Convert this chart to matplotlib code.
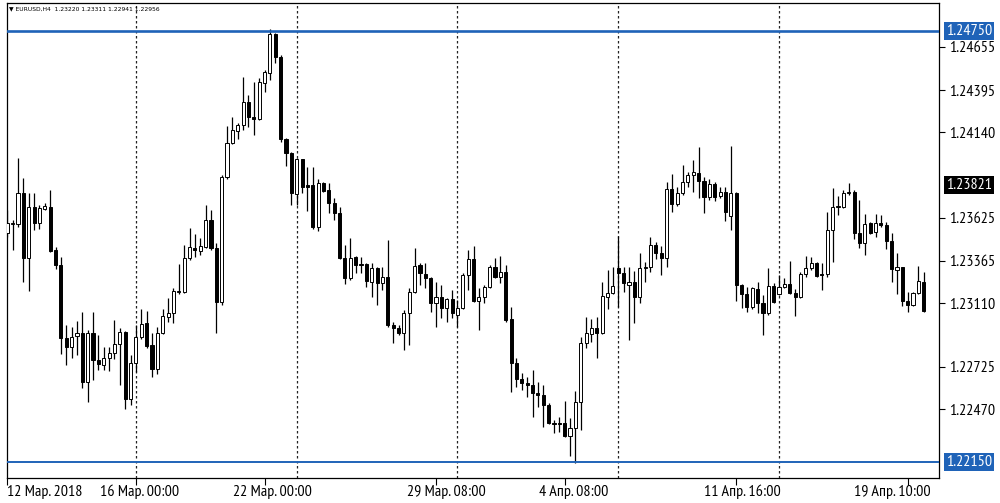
import matplotlib
matplotlib.use('Agg')
import matplotlib.pyplot as plt
import matplotlib.transforms as mtransforms

# EURUSD H4 candles
opens = [1.23532, 1.23586, 1.23586, 1.23773, 1.23381, 1.23689, 1.23592, 1.23677, 1.23689, 1.23430,
         1.23339, 1.22899, 1.22845, 1.22911, 1.22929, 1.22634, 1.22929, 1.22767, 1.22737, 1.22779,
         1.22809, 1.22863, 1.22935, 1.22532, 1.22749, 1.22905, 1.22990, 1.22857, 1.22712, 1.22929,
         1.23026, 1.23050, 1.23176, 1.23176, 1.23381, 1.23442, 1.23423, 1.23448, 1.23610, 1.23442,
         1.23116, 1.23869, 1.24076, 1.24148, 1.24183, 1.24323, 1.24233, 1.24217, 1.24434, 1.24498,
         1.24731, 1.24591, 1.24097, 1.24016, 1.23767, 1.23976, 1.23821, 1.23821, 1.23570, 1.23835,
         1.23791, 1.23715, 1.23652, 1.23381, 1.23261, 1.23387, 1.23345, 1.23345, 1.23237, 1.23321,
         1.23231, 1.23267, 1.22978, 1.22960, 1.22929, 1.23050, 1.23176, 1.23339, 1.23285, 1.23261,
         1.23110, 1.23146, 1.23080, 1.23134, 1.23038, 1.23080, 1.23279, 1.23375, 1.23122, 1.23146,
         1.23207, 1.23327, 1.23267, 1.23297, 1.23014, 1.22749, 1.22652, 1.22628, 1.22616, 1.22568,
         1.22556, 1.22495, 1.22387, 1.22387, 1.22387, 1.22309, 1.22357, 1.22514, 1.22869, 1.22923,
         1.22960, 1.22929, 1.23146, 1.23170, 1.23321, 1.23291, 1.23219, 1.23237, 1.23146, 1.23321,
         1.23327, 1.23460, 1.23411, 1.23381, 1.23797, 1.23707, 1.23773, 1.23839, 1.23881, 1.23894,
         1.23845, 1.23749, 1.23827, 1.23755, 1.23779, 1.23634, 1.23773, 1.23219, 1.23164, 1.23086,
         1.23194, 1.23110, 1.23050, 1.23213, 1.23164, 1.23207, 1.23225, 1.23170, 1.23146, 1.23285,
         1.23321, 1.23351, 1.23285, 1.23285, 1.23550, 1.23689, 1.23689, 1.23773, 1.23779, 1.23532,
         1.23472, 1.23592, 1.23538, 1.23592, 1.23580, 1.23484, 1.23309, 1.23327, 1.23122, 1.23098,
         1.23170, 1.23237]
highs = [1.23671, 1.23610, 1.23984, 1.23863, 1.23773, 1.23773, 1.23701, 1.23713, 1.23791, 1.23448,
         1.23387, 1.22978, 1.22966, 1.23002, 1.23056, 1.22947, 1.23056, 1.22917, 1.22845, 1.22845,
         1.23008, 1.22960, 1.22940, 1.22797, 1.22978, 1.23074, 1.23062, 1.22929, 1.22966, 1.23074,
         1.23140, 1.23201, 1.23345, 1.23460, 1.23562, 1.23526, 1.23502, 1.23701, 1.23671, 1.23472,
         1.23881, 1.24177, 1.24233, 1.24197, 1.24474, 1.24364, 1.24444, 1.24466, 1.24514, 1.24759,
         1.24735, 1.24605, 1.24103, 1.24022, 1.23982, 1.23980, 1.23928, 1.23928, 1.23856, 1.23841,
         1.23831, 1.23741, 1.23689, 1.23460, 1.23502, 1.23393, 1.23387, 1.23351, 1.23351, 1.23327,
         1.23327, 1.23490, 1.22996, 1.22978, 1.23068, 1.23201, 1.23442, 1.23351, 1.23351, 1.23267,
         1.23237, 1.23219, 1.23140, 1.23189, 1.23128, 1.23291, 1.23430, 1.23454, 1.23201, 1.23219,
         1.23339, 1.23381, 1.23393, 1.23339, 1.23086, 1.22779, 1.22688, 1.22664, 1.22706, 1.22634,
         1.22616, 1.22508, 1.22405, 1.22423, 1.22520, 1.22417, 1.22580, 1.22905, 1.23026, 1.23014,
         1.23026, 1.23237, 1.23309, 1.23327, 1.23514, 1.23327, 1.23327, 1.23303, 1.23411, 1.23357,
         1.23508, 1.23478, 1.23454, 1.23839, 1.23887, 1.23809, 1.23942, 1.23900, 1.23972, 1.24050,
         1.23869, 1.23856, 1.23839, 1.23809, 1.23809, 1.24056, 1.23779, 1.23225, 1.23207, 1.23207,
         1.23237, 1.23158, 1.23321, 1.23231, 1.23279, 1.23261, 1.23363, 1.23194, 1.23297, 1.23393,
         1.23387, 1.23357, 1.23351, 1.23658, 1.23803, 1.23755, 1.23791, 1.23833, 1.23791, 1.23731,
         1.23646, 1.23598, 1.23646, 1.23640, 1.23598, 1.23532, 1.23411, 1.23330, 1.23176, 1.23176,
         1.23333, 1.23297]
lows = [1.23508, 1.23430, 1.23568, 1.23237, 1.23182, 1.23550, 1.23556, 1.23671, 1.23420, 1.23315,
        1.22803, 1.22737, 1.22779, 1.22797, 1.22598, 1.22514, 1.22646, 1.22706, 1.22706, 1.22700,
        1.22773, 1.22616, 1.22471, 1.22495, 1.22694, 1.22893, 1.22839, 1.22664, 1.22682, 1.22923,
        1.22996, 1.22990, 1.23164, 1.23170, 1.23369, 1.23387, 1.23399, 1.23442, 1.23430, 1.22929,
        1.23098, 1.23857, 1.24068, 1.24098, 1.24153, 1.24172, 1.24122, 1.24213, 1.24383, 1.24454,
        1.24558, 1.24082, 1.23936, 1.23701, 1.23701, 1.23775, 1.23666, 1.23554, 1.23546, 1.23781,
        1.23654, 1.23610, 1.23378, 1.23225, 1.23249, 1.23291, 1.23291, 1.23207, 1.23146, 1.23098,
        1.23189, 1.22966, 1.22869, 1.22917, 1.22827, 1.22857, 1.23170, 1.23219, 1.23201, 1.23056,
        1.22966, 1.23020, 1.22996, 1.23020, 1.22966, 1.23074, 1.23189, 1.23116, 1.22947, 1.23110,
        1.23201, 1.23261, 1.23231, 1.22996, 1.22574, 1.22604, 1.22586, 1.22544, 1.22423, 1.22483,
        1.22363, 1.22380, 1.22327, 1.22333, 1.22303, 1.22188, 1.22146, 1.22345, 1.22839, 1.22875,
        1.22779, 1.22923, 1.23074, 1.23164, 1.23086, 1.23176, 1.22887, 1.22990, 1.23110, 1.23237,
        1.23297, 1.23375, 1.23279, 1.23327, 1.23658, 1.23695, 1.23761, 1.23809, 1.23779, 1.23743,
        1.23652, 1.23731, 1.23725, 1.23743, 1.23604, 1.23550, 1.23122, 1.23080, 1.23056, 1.23074,
        1.23050, 1.22917, 1.23038, 1.23110, 1.23158, 1.23201, 1.23164, 1.23032, 1.23140, 1.23267,
        1.23309, 1.23267, 1.23189, 1.23267, 1.23357, 1.23640, 1.23683, 1.23761, 1.23496, 1.23442,
        1.23399, 1.23526, 1.23508, 1.23568, 1.23436, 1.23237, 1.23164, 1.23092, 1.23056, 1.23092,
        1.23164, 1.23056]
closes = [1.23592, 1.23592, 1.23773, 1.23381, 1.23689, 1.23592, 1.23683, 1.23695, 1.23425, 1.23339,
          1.22899, 1.22845, 1.22905, 1.22929, 1.22634, 1.22929, 1.22767, 1.22743, 1.22779, 1.22809,
          1.22863, 1.22935, 1.22532, 1.22749, 1.22905, 1.22984, 1.22851, 1.22712, 1.22929, 1.23032,
          1.23050, 1.23182, 1.23182, 1.23381, 1.23448, 1.23430, 1.23454, 1.23610, 1.23442, 1.23116,
          1.23869, 1.24076, 1.24153, 1.24183, 1.24323, 1.24233, 1.24221, 1.24444, 1.24504, 1.24731,
          1.24591, 1.24097, 1.24016, 1.23775, 1.23976, 1.23811, 1.23811, 1.23570, 1.23835, 1.23787,
          1.23715, 1.23651, 1.23381, 1.23261, 1.23381, 1.23339, 1.23339, 1.23243, 1.23321, 1.23231,
          1.23267, 1.22978, 1.22960, 1.22929, 1.23050, 1.23176, 1.23333, 1.23291, 1.23261, 1.23110,
          1.23146, 1.23080, 1.23134, 1.23050, 1.23080, 1.23279, 1.23375, 1.23122, 1.23146, 1.23207,
          1.23327, 1.23267, 1.23297, 1.23008, 1.22749, 1.22652, 1.22628, 1.22616, 1.22568, 1.22556,
          1.22495, 1.22387, 1.22381, 1.22381, 1.22309, 1.22357, 1.22514, 1.22869, 1.22929, 1.22960,
          1.22929, 1.23152, 1.23170, 1.23213, 1.23291, 1.23231, 1.23237, 1.23146, 1.23321, 1.23327,
          1.23460, 1.23411, 1.23381, 1.23797, 1.23707, 1.23773, 1.23839, 1.23881, 1.23900, 1.23845,
          1.23749, 1.23827, 1.23749, 1.23779, 1.23658, 1.23773, 1.23219, 1.23164, 1.23086, 1.23201,
          1.23110, 1.23050, 1.23213, 1.23116, 1.23207, 1.23225, 1.23170, 1.23146, 1.23285, 1.23321,
          1.23351, 1.23273, 1.23279, 1.23550, 1.23689, 1.23695, 1.23773, 1.23779, 1.23532, 1.23472,
          1.23586, 1.23532, 1.23592, 1.23580, 1.23484, 1.23315, 1.23327, 1.23122, 1.23098, 1.23170,
          1.23243, 1.23062]

date_labels = ['12 Мар. 2018', '16 Мар. 00:00', '22 Мар. 00:00', '29 Мар. 08:00',
               '4 Апр. 08:00', '11 Апр. 16:00', '19 Апр. 10:00']
date_ticks = [0, 24, 48, 80, 104, 136, 168]        # bar index of each tick mark
date_label_at = [6.9, 24.6, 49.5, 82.0, 105.7, 137.1, 165.2]
grid_bars = [24, 54, 84, 114, 144]
price_ticks = [1.24655, 1.24395, 1.24140, 1.23625, 1.23365, 1.23110, 1.22725, 1.22470]
level_top = 1.24750
level_bottom = 1.22150
marker_price = 1.23821
header = 'EURUSD,H4  1.23220 1.23311 1.22941 1.22956'

FONT = ['PT Sans Narrow', 'DejaVu Sans']
BLUE = '#1f63b8'

fig = plt.figure(figsize=(10, 5.03), dpi=100)
ax = fig.add_axes([0.0067, 0.0503, 0.9326, 0.9431])

n = len(opens)
xs = list(range(n))

# wicks
ax.vlines(xs, lows, highs, color='black', lw=0.9, zorder=2)

# bodies
for i in xs:
    o, c = opens[i], closes[i]
    up = c >= o
    h = max(abs(c - o), 0.00001)
    ax.bar(i, h, bottom=min(o, c), width=0.58, color='white' if up else 'black',
           edgecolor='black', linewidth=0.7, zorder=3)

for g in grid_bars:
    ax.axvline(g, color='#222222', lw=0.9, ls=(0, (2, 2)), zorder=1)

ax.axhline(level_top, color=BLUE, lw=1.9, zorder=4)
ax.axhline(level_bottom, color=BLUE, lw=1.4, zorder=4)

ax.set_xlim(-0.11, 173.9)
ax.set_ylim(1.220578, 1.249165)

# price axis on the right
ax.yaxis.tick_right()
ax.set_yticks(price_ticks)
ax.set_yticklabels(['%.5f' % p for p in price_ticks])
ax.tick_params(axis='y', direction='out', length=4, width=0.8, pad=3, labelsize=11.5)
for lbl in ax.get_yticklabels():
    lbl.set_family(FONT)

ax.set_xticks(date_ticks)
ax.set_xticklabels([])
ax.tick_params(axis='x', direction='out', length=5, width=0.8)

for sp in ax.spines.values():
    sp.set_linewidth(0.9)

xtr = mtransforms.blended_transform_factory(ax.transData, ax.transAxes)
for pos, s in zip(date_label_at, date_labels):
    ax.text(pos, -0.03, s, transform=xtr, ha='center', va='center',
            fontsize=11.5, family=FONT)

ytr = mtransforms.blended_transform_factory(ax.transAxes, ax.transData)
for val, bg in [(level_top, BLUE), (marker_price, 'black'), (level_bottom, BLUE)]:
    ax.text(1.007, val, '%.5f' % val, transform=ytr, ha='left', va='center',
            fontsize=11.5, family=FONT, color='white', clip_on=False,
            bbox=dict(boxstyle='square,pad=0.12', fc=bg, ec='none'))

ax.text(0.003, 0.988, '\u25bc ' + header, transform=ax.transAxes, ha='left', va='center',
        fontsize=4.3, family='DejaVu Sans')

fig.savefig('out.png', dpi=100)
